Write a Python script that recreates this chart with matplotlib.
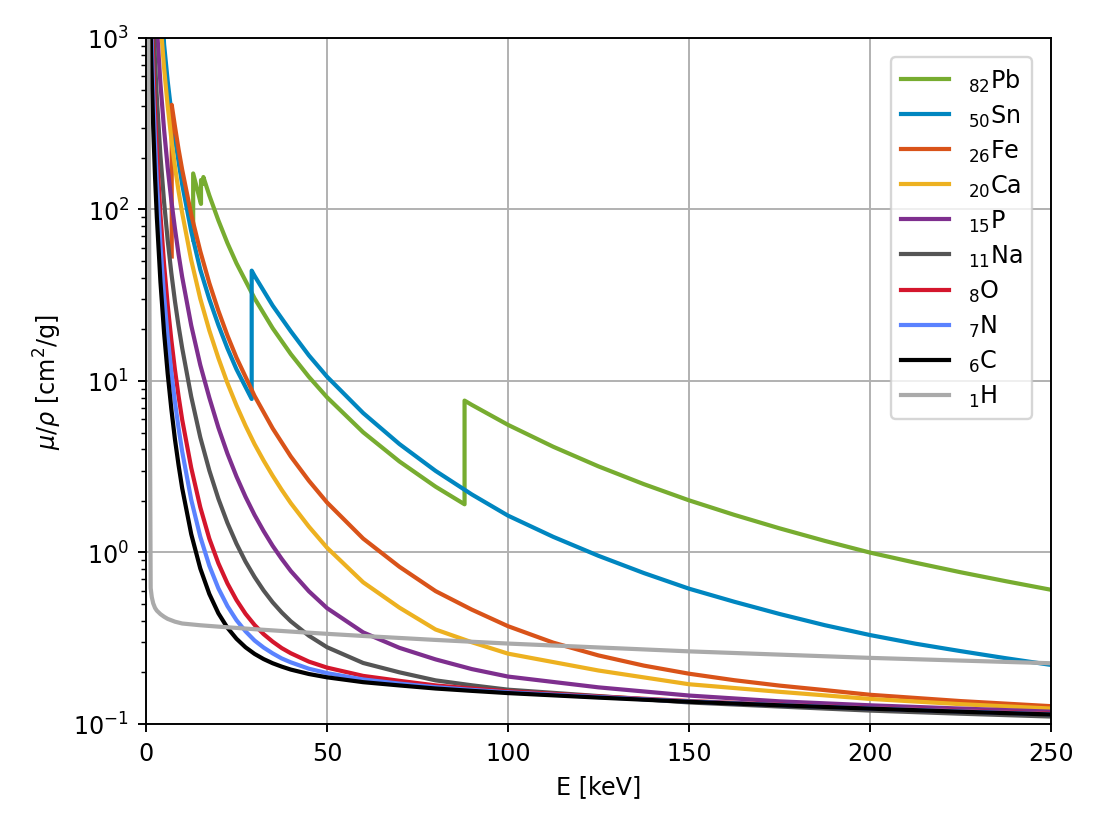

# Mass attenuation coefficient mu/rho versus photon energy for a set of elements
import numpy as np
import matplotlib.pyplot as plt

nan = np.nan

# shared energy grid [keV] for the light elements
energy = [1, 1.5, 2, 2.5, 3, 4, 5, 6, 7, 8, 9, 10, 12.5, 15, 17.5, 20, 22.5, 25,
          27.5, 30, 32.5, 35, 37.5, 40, 45, 50, 60, 70, 80, 90, 100, 125, 150,
          175, 200, 225, 250]

# mu/rho [cm^2/g]
mu_C = [2211, 700.2, 302.6, 155.6, 90.33, 37.78, 19.12, 11.03, 6.885, 4.576, 3.236,
        2.373, 1.28, 0.8071, 0.573, 0.442, 0.364, 0.314, 0.280, 0.2562, 0.239,
        0.226, 0.216, 0.2076, 0.1956, 0.1871, 0.1753, 0.1678, 0.161, 0.156,
        0.1514, 0.1425, 0.1347, 0.1285, 0.1229, 0.1179, 0.1136]
mu_N = [3311, 1083, 476.9, 248.3, 145.6, 61.66, 31.44, 18.09, 11.34, 7.562, 5.316,
        3.879, 2.03, 1.236, 0.837, 0.6178, 0.487, 0.403, 0.347, 0.3066, 0.279,
        0.258, 0.241, 0.2288, 0.210, 0.198, 0.1817, 0.172, 0.1639, 0.158, 0.1529,
        0.1436, 0.1353, 0.129, 0.1233, 0.1185, 0.114]
mu_O = [4590, 1549, 694.9, 366.4, 217.1, 93.15, 47.9, 27.7, 17.4, 11.63, 8.165,
        5.952, 3.116, 1.836, 1.204, 0.8651, 0.660, 0.528, 0.439, 0.3779, 0.334,
        0.302, 0.277, 0.2585, 0.231, 0.2132, 0.1907, 0.1785, 0.1678, 0.161,
        0.1551, 0.1447, 0.1361, 0.1295, 0.1237, 0.119, 0.1148]
mu_Na = [6000, 2774, 1330, 732.5, 449.8, 205.8, 110.7, 66.2, 42.7, 29.2, 20.95,
         15.57, 8.1, 4.694, 3.007, 2.057, 1.487, 1.125, 0.884, 0.7197, 0.600,
         0.512, 0.447, 0.3969, 0.327, 0.2804, 0.2268, 0.2001, 0.1796, 0.1681,
         0.1585, 0.1455, 0.1335, 0.1264, 0.1197, 0.1148, 0.1105]
mu_P = [nan, nan, nan, 1900, 1170, 540, 292, 175, 113.1, 77.5, 54.9, 40.4, 21.1,
        12.4, 7.99, 5.35, 3.772, 2.774, 2.111, 1.654, 1.332, 1.093, 0.917, 0.78,
        0.594, 0.474, 0.342, 0.278, 0.238, 0.209, 0.189, 0.1635, 0.1465, 0.1355,
        0.1285, 0.123, 0.118]
mu_Ca = [nan, nan, nan, nan, nan, 1250, 670, 400, 259, 178, 128, 95.5, 50.7, 30.2,
         19.7, 13.6, 9.72, 7.2, 5.485, 4.28, 3.434, 2.80, 2.317, 1.94, 1.415, 1.067,
         0.670, 0.477, 0.3555, 0.2997, 0.2571, 0.205, 0.1705, 0.154, 0.140,
         0.1305, 0.123]

# elements with absorption edges get their own energies (edge energy repeated)
fe_energy = [7.112, 7.112, 8, 9, 10, 12.5, 15, 17.5, 20, 22.5, 25, 30, 35, 40, 45,
             50, 60, 70, 80, 90, 100, 112.5, 125, 137.5, 150, 162.5, 175, 187.5,
             200, 225, 250]
mu_Fe = [53.19, 407.6, 305.6, 224.6, 170.6, 93.4, 57.08, 37.2, 25.68, 18.42, 13.68,
         8.176, 5.29, 3.629, 2.62, 1.958, 1.205, 0.8257, 0.5952, 0.4642, 0.3717,
         0.298, 0.251, 0.219, 0.1964, 0.180, 0.1674, 0.1576, 0.148, 0.136, 0.127]

sn_energy = [4.5, 5, 6, 7, 8, 9, 10, 12.5, 15, 17.5, 20, 22.5, 25, 29.2, 29.2, 30,
             35, 40, 45, 50, 60, 70, 80, 90, 100, 112.5, 125, 137.5, 150, 162.5,
             175, 187.5, 200, 212.5, 225, 237.5, 250]
mu_Sn = [1500, 920, 560, 370, 260, 190, 140, 74.6, 44.6, 30.0, 21.2, 15.5, 11.7,
         7.85, 44.0, 41.0, 27.5, 19.5, 14.1, 10.6, 6.5, 4.29, 2.99, 2.18, 1.64,
         1.2335, 0.956, 0.759, 0.615, 0.516, 0.438, 0.3768, 0.33, 0.294, 0.266,
         0.2418, 0.221]

pb_energy = [13.035, 13.035, 15, 15.2, 15.2, 15.86, 15.86, 17.5, 20, 22.5, 25, 30,
             35, 40, 45, 50, 60, 70, 80, 88.0, 88.0, 90, 100, 112.5, 125, 137.5,
             150, 162.5, 175, 187.5, 200, 212.5, 225, 237.5, 250]
mu_Pb = [66.7, 162.2, 111.6, 107.8, 148.5, 141.2, 154.6, 120.8, 86.36, 63.7, 48.55,
         30.32, 20.3, 14.36, 10.57, 8.041, 5.021, 3.395, 2.419, 1.91, 7.683, 7.256,
         5.549, 4.135, 3.177, 2.504, 2.014, 1.657, 1.383, 1.1686, 0.9985, 0.872,
         0.767, 0.680, 0.606]

h_energy = [0.5, 1.3, 1.6, 2, 2.5, 3, 4, 5, 6, 8, 10, 15, 20, 30, 40, 50, 60, 80,
            100, 150, 200, 250]
mu_H = [5000, 0.62, 0.55, 0.505, 0.475, 0.458, 0.437, 0.422, 0.41, 0.395, 0.3854,
        0.3764, 0.3695, 0.357, 0.3458, 0.3355, 0.326, 0.3091, 0.2944, 0.2651,
        0.2429, 0.226]

# plotting, in legend order
curves = [
    (pb_energy, mu_Pb, r'$_{82}$Pb', '#77AC30'),
    (sn_energy, mu_Sn, r'$_{50}$Sn', '#0086C0'),
    (fe_energy, mu_Fe, r'$_{26}$Fe', '#D95319'),
    (energy, mu_Ca, r'$_{20}$Ca', '#EDB120'),
    (energy, mu_P, r'$_{15}$P', '#7E2F8E'),
    (energy, mu_Na, r'$_{11}$Na', '#555555'),
    (energy, mu_O, r'$_{8}$O', '#D4162C'),
    (energy, mu_N, r'$_{7}$N', '#5A82FF'),
    (energy, mu_C, r'$_{6}$C', 'black'),
    (h_energy, mu_H, r'$_{1}$H', '#AAAAAA'),
]

plt.figure(figsize=(1100 / 172, 826 / 172), dpi=172)
for e, mu, label, color in curves:
    plt.plot(e, mu, color=color, label=label, linewidth=1.75)

plt.yscale('log')
plt.xlim(0, 250)
plt.ylim(0.1, 1000)
plt.grid(True)
plt.xlabel('E [keV]')
plt.ylabel(r'$\mu/\rho$ [cm$^2$/g]')
plt.legend(loc='upper right', labelspacing=0.37, borderaxespad=0.8)
plt.subplots_adjust(left=0.1327, right=0.9555, top=0.9528, bottom=0.1223)

plt.savefig('out.png', dpi=172)
